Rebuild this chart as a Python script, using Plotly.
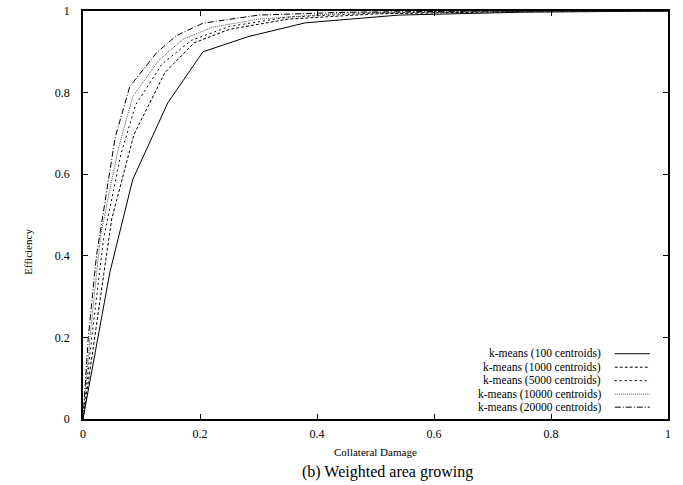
import plotly.graph_objects as go

# ---- data ----
names = ["k-means (100 centroids)", "k-means (1000 centroids)", "k-means (5000 centroids)",
         "k-means (10000 centroids)", "k-means (20000 centroids)"]
x100 = [0, 0.046, 0.085, 0.145, 0.205, 0.282, 0.38, 0.54, 0.75, 1.0]
y100 = [0, 0.36, 0.587, 0.775, 0.90, 0.937, 0.971, 0.99, 0.997, 1.0]
x1000 = [0, 0.02, 0.049, 0.087, 0.14, 0.19, 0.25, 0.35, 0.5, 0.8, 1.0]
y1000 = [0, 0.2, 0.49, 0.697, 0.849, 0.922, 0.955, 0.98, 0.993, 1.0, 1.0]
x5000 = [0, 0.015, 0.035, 0.065, 0.09, 0.135, 0.185, 0.25, 0.35, 0.5, 0.8, 1.0]
y5000 = [0, 0.2, 0.44, 0.65, 0.77, 0.87, 0.928, 0.962, 0.985, 0.995, 1.0, 1.0]
x10000 = [0, 0.012, 0.03, 0.06, 0.085, 0.13, 0.17, 0.22, 0.3, 0.45, 0.7, 1.0]
y10000 = [0, 0.2, 0.45, 0.66, 0.79, 0.88, 0.93, 0.96, 0.98, 0.995, 1.0, 1.0]
x20000 = [0, 0.009, 0.023, 0.055, 0.08, 0.126, 0.16, 0.205, 0.3, 0.45, 0.7, 1.0]
y20000 = [0, 0.2, 0.4, 0.69, 0.815, 0.898, 0.94, 0.97, 0.99, 0.997, 1.0, 1.0]
xs = [x100, x1000, x5000, x10000, x20000]
ys = [y100, y1000, y5000, y10000, y20000]
tick_vals = [0, 0.2, 0.4, 0.6, 0.8, 1]
tick_text = ["0", "0.2", "0.4", "0.6", "0.8", "1"]

dashes = ["solid", "3px,2px", "2px,3px", "1px,1px", "6px,2px,1px,2px"]
colors = ["#000000", "#000000", "#000000", "#555555", "#000000"]

FONT = "Liberation Serif, Times New Roman, DejaVu Serif, serif"
fig = go.Figure()
for n, x, y, d, c in zip(names, xs, ys, dashes, colors):
    fig.add_trace(go.Scatter(x=x, y=y, mode="lines", name=n, showlegend=False,
                             line=dict(color=c, width=1, dash=d)))

# manual gnuplot-style legend (text right, sample right of it)
row_y = [0.16, 0.127, 0.094, 0.061, 0.029]
for n, ry, d, c in zip(names, row_y, dashes, colors):
    fig.add_annotation(x=0.889, y=ry, xref="paper", yref="paper", text=n, showarrow=False,
                       xanchor="right", yanchor="middle", font=dict(family=FONT, size=11.5, color="black"))
    fig.add_shape(type="line", xref="paper", yref="paper", x0=0.909, x1=0.969, y0=ry, y1=ry,
                  line=dict(color=c, width=1, dash=d))

axis_common = dict(range=[0, 1], tickvals=tick_vals, ticktext=tick_text, ticks="inside", ticklen=5,
                   tickcolor="black", showline=True, linecolor="black", linewidth=1.5,
                   mirror="allticks", showgrid=False, zeroline=False, automargin=False,
                   tickfont=dict(family=FONT, size=12, color="black"))
fig.update_xaxes(**axis_common, ticklabelstandoff=3)
fig.update_yaxes(**axis_common, ticklabelstandoff=9)

fig.add_annotation(x=0.5, y=-0.081, xref="paper", yref="paper", text="Collateral Damage",
                   xanchor="center", yanchor="middle",
                   showarrow=False, font=dict(family=FONT, size=11, color="black"))
fig.add_annotation(x=0.52, y=-0.13, xref="paper", yref="paper", text="(b) Weighted area growing",
                   xanchor="center", yanchor="middle",
                   showarrow=False, font=dict(family=FONT, size=16, color="black"))
fig.add_annotation(x=-0.094, y=0.41, xref="paper", yref="paper", text="Efficiency", textangle=-90,
                   xanchor="center", yanchor="middle",
                   showarrow=False, font=dict(family=FONT, size=11, color="black"))

fig.update_layout(width=683, height=485, margin=dict(l=83, r=15, t=11, b=66),
                  plot_bgcolor="white", paper_bgcolor="white",
                  font=dict(family=FONT))
fig.write_html("out.html")
